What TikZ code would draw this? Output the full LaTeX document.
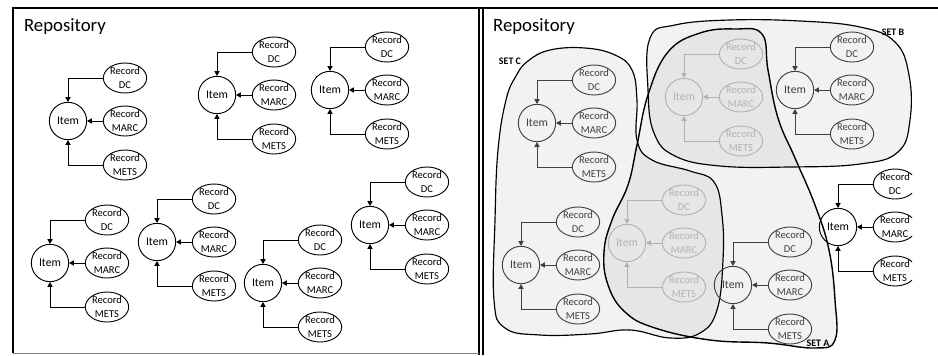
\documentclass[tikz,border=0pt]{standalone}
\usepackage{fontspec}
\setmainfont{Carlito}
\usetikzlibrary{arrows.meta,shapes.geometric}

\begin{document}
\begin{tikzpicture}[
  x=0.03cm,y=-0.03cm,
  every node/.style={font=\fontsize{9}{11.5}\selectfont},
  item/.style={circle,draw,line width=.8pt,minimum size=1.12cm,inner sep=0pt,
    font=\fontsize{10}{12}\selectfont},
  rec/.style={ellipse,draw,line width=.8pt,minimum width=1.3cm,
    minimum height=.9cm,inner xsep=-4pt,inner ysep=-3pt,align=center},
  arr/.style={-{Triangle[length=4pt,width=4.5pt]},line width=.6pt},
  frame/.style={line width=.9pt},
  setline/.style={line width=1pt,fill=black,fill opacity=.05,draw opacity=1},
  setlabel/.style={font=\fontsize{8.5}{10}\selectfont\bfseries},
  title/.style={font=\fontsize{16}{18}\selectfont,anchor=base west}]
  \path[use as bounding box] (0,0) rectangle (938,355);

  % Frames of the two panels.
  \draw[frame,line width=1.3pt] (13,353) -- (13,8) -- (938,8);
  \draw[frame] (479,8) -- (479,355);
  \draw[frame] (483,8) -- (483,355);
  \draw[gray,line width=.5pt] (13,353) -- (479,353);

  % Panel left: items and their records.
  \node[title] (repoL) at (20,31) {Repository};
  \foreach \g/\gx/\gy in {a/68/121,b/217/95,c/330/90,d/50/263,
      e/157/242,f/263/283,g/370/225}{
    \begin{scope}[shift={(\gx,\gy)}]
      \node[item] (item-\g) at (0,0) {Item};
      \node[rec] (dc-\g) at (57,-43) {Record\\DC};
      \node[rec] (marc-\g) at (57,0) {Record\\MARC};
      \node[rec] (mets-\g) at (57,44) {Record\\METS};
      \draw[arr] (dc-\g.west) -| (item-\g.north);
      \draw[arr] (marc-\g.west) -- (item-\g.east);
      \draw[arr] (mets-\g.west) -| (item-\g.south);
    \end{scope}
  }

  % Panel right: the same items grouped into sets.
  \node[title] (repoR) at (489,31) {Repository};
  \begin{scope}
    \clip (483,0) rectangle (912,355);
    % set C
    \draw[setline] plot[smooth cycle,tension=.7] coordinates {
      (528,61) (550,50) (585,48) (615,55) (632,70) (637,100) (637,140)
      (652,160) (690,171) (714,182) (722,215) (723,260) (717,310)
      (700,333) (670,338) (630,330) (590,334) (540,335) (505,328)
      (494,300) (495,220) (498,150) (506,100) (516,76)};
    % set B
    \draw[setline] plot[smooth cycle,tension=.7] coordinates {
      (650,38) (675,25) (730,20) (800,21) (860,27) (895,42) (909,75)
      (910,120) (898,152) (860,164) (790,167) (720,166) (675,156)
      (654,133) (648,90)};
    % set A
    \draw[setline,line width=1.2pt] plot[smooth cycle,tension=.7] coordinates {
      (735,29) (762,34) (768,70) (778,118) (795,158) (815,205) (829,250)
      (835,300) (835,340) (815,348) (768,343) (710,340) (655,328)
      (625,312) (608,285) (604,252) (612,220) (628,185) (637,145)
      (648,95) (668,52) (700,33)};
    \foreach \g/\gx/\gy/\gc in {ca/537/123/black!75,ba/684/97/black!30,
        bb/795/90/black!75,cb/521/265/black!75,ac/627/243/black!30,
        aa/733/285/black!75,out/838/227/black}{
      \begin{scope}[shift={(\gx,\gy)},color=\gc]
        \node[item] (item-\g) at (0,0) {Item};
        \node[rec] (dc-\g) at (57,-43) {Record\\DC};
        \node[rec] (marc-\g) at (57,0) {Record\\MARC};
        \node[rec] (mets-\g) at (57,44) {Record\\METS};
        \draw[arr] (dc-\g.west) -| (item-\g.north);
        \draw[arr] (marc-\g.west) -- (item-\g.east);
        \draw[arr] (mets-\g.west) -| (item-\g.south);
      \end{scope}
    }
  \end{scope}
  \node[setlabel] (setC) at (510,61) {SET C};
  \node[setlabel] (setB) at (893,32) {SET B};
  \node[setlabel] (setA) at (818,343) {SET A};
\end{tikzpicture}
\end{document}
